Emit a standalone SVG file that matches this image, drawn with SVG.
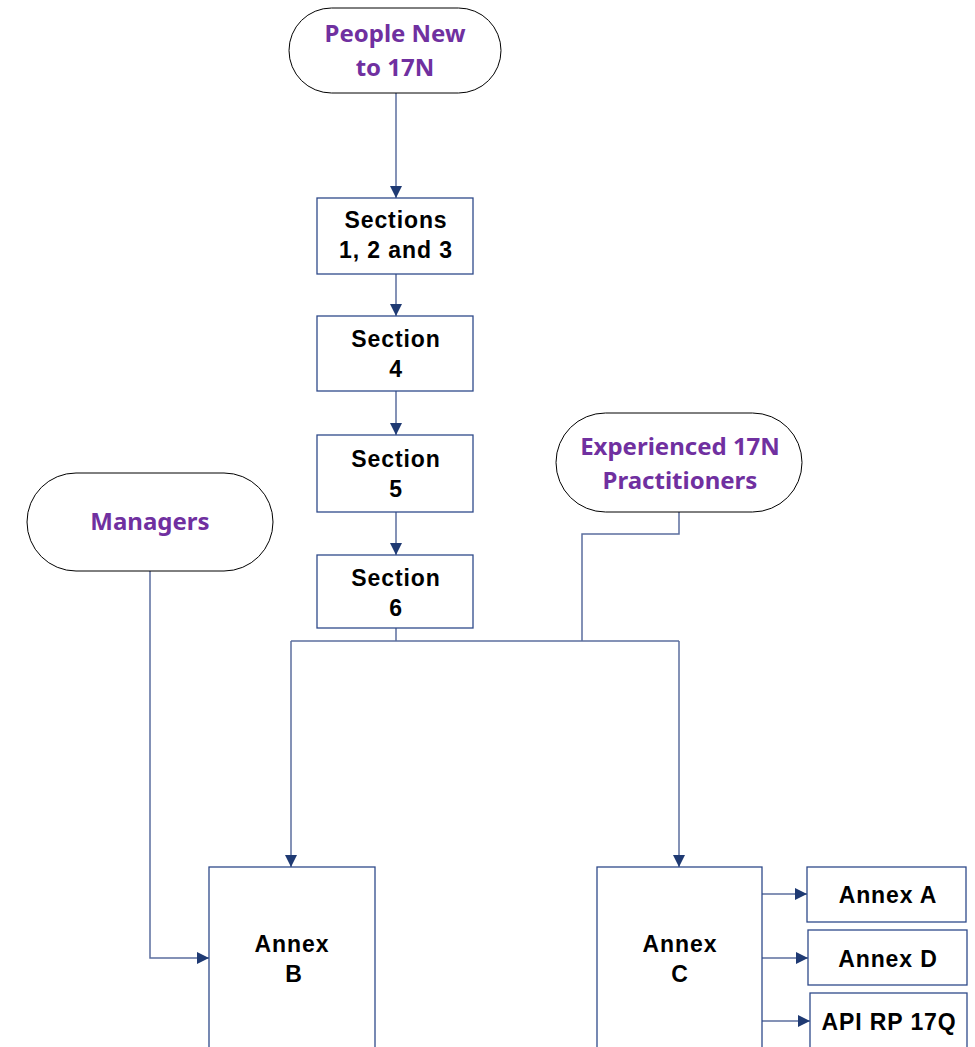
<svg xmlns="http://www.w3.org/2000/svg" width="975" height="1047" viewBox="0 0 975 1047">
<style>
.term{fill:#fff;stroke:#000;stroke-width:1}
.box{fill:#fff;stroke:#2f4a8a;stroke-width:1.3}
.tt{font-family:"Noto Sans","Open Sans",sans-serif;font-weight:bold;font-size:24px;fill:#7030a0;text-anchor:middle}
.bt{font-family:"Liberation Sans",Arial,sans-serif;font-weight:bold;font-size:23px;fill:#000;text-anchor:middle;letter-spacing:0.9px}
.ln{fill:none;stroke:#5b6e9e;stroke-width:1.5}
</style>
<defs>
<marker id="ah" viewBox="0 0 10 10" refX="10" refY="5" markerWidth="12" markerHeight="12" markerUnits="userSpaceOnUse" orient="auto">
<path d="M0,0 L10,5 L0,10 z" fill="#1f3a73"/>
</marker>
</defs>
<rect width="975" height="1047" fill="#fff"/>
<g id="connectors">
<path class="ln" d="M396,93 V198" marker-end="url(#ah)"/>
<path class="ln" d="M396,274 V316" marker-end="url(#ah)"/>
<path class="ln" d="M396,391 V435" marker-end="url(#ah)"/>
<path class="ln" d="M396,512 V555" marker-end="url(#ah)"/>
<path class="ln" d="M396,628 V641"/>
<path class="ln" d="M679,512 V534 H582 V641"/>
<path class="ln" d="M291,641 H679"/>
<path class="ln" d="M291,641 V867" marker-end="url(#ah)"/>
<path class="ln" d="M679,641 V867" marker-end="url(#ah)"/>
<path class="ln" d="M150,571 V958 H209" marker-end="url(#ah)"/>
<path class="ln" d="M762,894 H807" marker-end="url(#ah)"/>
<path class="ln" d="M762,958 H808" marker-end="url(#ah)"/>
<path class="ln" d="M762,1021 H810" marker-end="url(#ah)"/>
</g>
<g id="people-new">
<rect class="term" x="289" y="8" width="212" height="85" rx="42.5"/>
<text class="tt" x="395" y="42">People New</text>
<text class="tt" x="395" y="76">to 17N</text>
</g>
<g id="sections-123">
<rect class="box" x="317" y="198" width="156" height="76"/>
<text class="bt" x="396" y="228">Sections</text>
<text class="bt" x="396" y="258">1, 2 and 3</text>
</g>
<g id="section-4">
<rect class="box" x="317" y="316" width="156" height="75"/>
<text class="bt" x="396" y="347">Section</text>
<text class="bt" x="396" y="377">4</text>
</g>
<g id="section-5">
<rect class="box" x="317" y="435" width="156" height="77"/>
<text class="bt" x="396" y="467">Section</text>
<text class="bt" x="396" y="497">5</text>
</g>
<g id="section-6">
<rect class="box" x="317" y="555" width="156" height="73"/>
<text class="bt" x="396" y="586">Section</text>
<text class="bt" x="396" y="616">6</text>
</g>
<g id="experienced">
<rect class="term" x="556" y="413" width="246" height="99" rx="49.5"/>
<text class="tt" x="680" y="455">Experienced 17N</text>
<text class="tt" x="680" y="489">Practitioners</text>
</g>
<g id="managers">
<rect class="term" x="27" y="473" width="246" height="98" rx="49"/>
<text class="tt" x="150" y="530">Managers</text>
</g>
<g id="annex-b">
<rect class="box" x="209" y="867" width="166" height="200"/>
<text class="bt" x="292" y="952">Annex</text>
<text class="bt" x="294" y="982">B</text>
</g>
<g id="annex-c">
<rect class="box" x="597" y="867" width="165" height="200"/>
<text class="bt" x="680" y="952">Annex</text>
<text class="bt" x="680" y="982">C</text>
</g>
<g id="annex-a">
<rect class="box" x="807" y="867" width="159" height="55"/>
<text class="bt" x="888" y="903">Annex A</text>
</g>
<g id="annex-d">
<rect class="box" x="808" y="930" width="159" height="55"/>
<text class="bt" x="888" y="967">Annex D</text>
</g>
<g id="api-rp-17q">
<rect class="box" x="810" y="993" width="157" height="80"/>
<text class="bt" x="889" y="1030">API RP 17Q</text>
</g>
</svg>
